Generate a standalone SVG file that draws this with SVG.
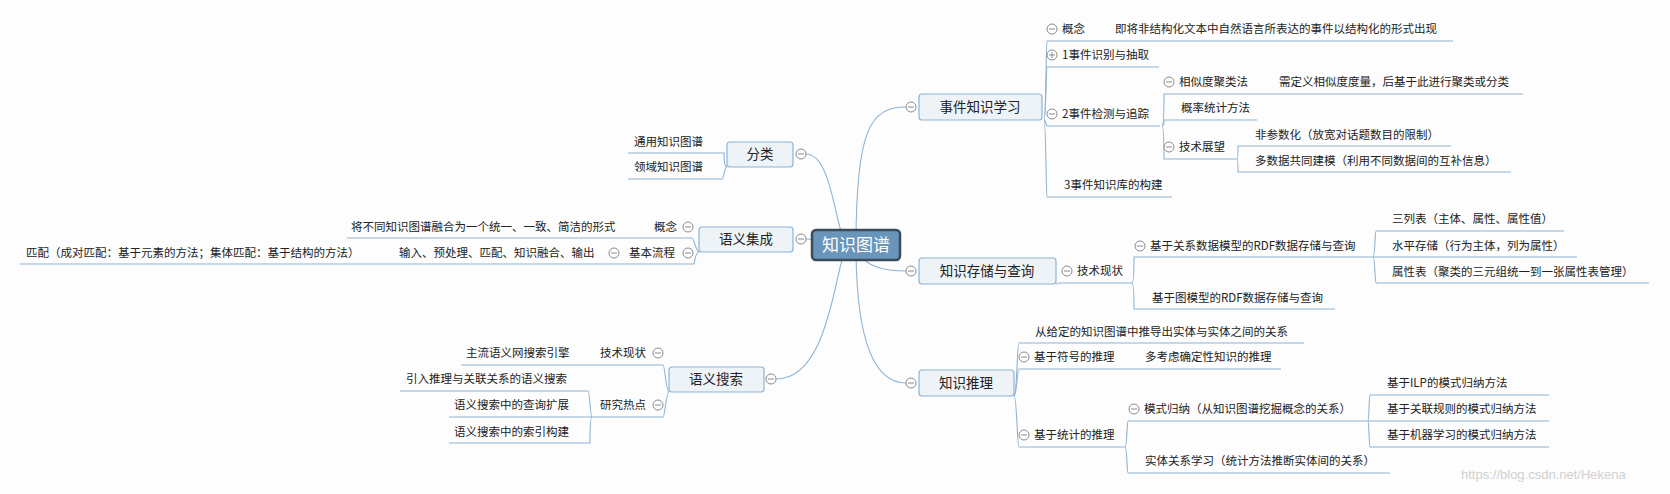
<svg xmlns="http://www.w3.org/2000/svg" width="1670" height="494" viewBox="0 0 1670 494">
<style>
.t{font-family:"Noto Sans CJK SC","Liberation Sans",sans-serif;font-size:11.5px;fill:#222}
.b{font-family:"Noto Sans CJK SC","Liberation Sans",sans-serif;font-size:13.5px;fill:#222;text-anchor:middle}
.box{fill:#eef3f8;stroke:#8fb3d3;stroke-width:1.2}
.ln{fill:none;stroke:#8fb3d3;stroke-width:1.1}
.c{fill:#fff;stroke:#8a8a8a;stroke-width:1}
.m{stroke:#8a8a8a;stroke-width:1}
</style>
<rect width="1670" height="494" fill="#fdfdfd"/>
<g id="connectors">
<path class="ln" d="M850 245 C835 245 835 154 806 154"/>
<path class="ln" d="M850 245 C830 245 830 239 806 239"/>
<path class="ln" d="M850 245 C835 245 835 379 776 379"/>
<path class="ln" d="M856 245 C856 130 870 107 906 107"/>
<path class="ln" d="M856 245 C860 265 880 271 906 271"/>
<path class="ln" d="M856 245 C856 330 870 383 906 383"/>
<path class="ln" d="M727 167 C724 167 724 153 724 153 H628"/>
<path class="ln" d="M727 167 C724 167 724 179 722 179 H628"/>
<path class="ln" d="M699 252 C696 252 694 238 692 238 H347"/>
<path class="ln" d="M699 252 C696 252 694 264 694 264 H20"/>
<path class="ln" d="M669 392 C666 392 665 365 663 365 H461"/>
<path class="ln" d="M669 392 C666 392 665 417 663 417 H592"/>
<path class="ln" d="M592 417 C590 417 590 391 588 391 H400"/>
<path class="ln" d="M592 417 H449"/>
<path class="ln" d="M592 417 C590 417 590 443 590 443 H449"/>
<path class="ln" d="M1044 120 C1046 120 1046 41 1047 41 H1453"/>
<path class="ln" d="M1044 120 C1046 120 1046 67 1047 67 H1159"/>
<path class="ln" d="M1044 120 C1046 120 1046 126 1047 126 H1160"/>
<path class="ln" d="M1044 120 C1046 120 1046 197 1047 197 H1172"/>
<path class="ln" d="M1162 126 C1164 126 1164 94 1164 94 H1523"/>
<path class="ln" d="M1162 126 C1164 126 1164 120 1164 120 H1257"/>
<path class="ln" d="M1162 126 C1164 126 1164 159 1164 159 H1237"/>
<path class="ln" d="M1237 159 C1238 159 1238 146 1238 146 H1451"/>
<path class="ln" d="M1237 159 C1238 159 1238 172 1238 172 H1511"/>
<path class="ln" d="M1056 284 C1058 284 1058 283 1059 283 H1132"/>
<path class="ln" d="M1132 283 C1134 283 1134 257 1134 257 H1373"/>
<path class="ln" d="M1132 283 C1134 283 1134 309 1134 309 H1335"/>
<path class="ln" d="M1373 257 C1375 257 1375 231 1376 231 H1564"/>
<path class="ln" d="M1373 257 H1577"/>
<path class="ln" d="M1373 257 C1375 257 1375 283 1376 283 H1649"/>
<path class="ln" d="M1014 396 C1017 396 1017 343 1019 343 H1304"/>
<path class="ln" d="M1014 396 C1017 396 1017 369 1019 369 H1281"/>
<path class="ln" d="M1014 396 C1017 396 1017 447 1019 447 H1125"/>
<path class="ln" d="M1125 447 C1127 447 1127 421 1128 421 H1368"/>
<path class="ln" d="M1125 447 C1127 447 1127 473 1128 473 H1390"/>
<path class="ln" d="M1368 421 C1369 421 1369 395 1370 395 H1549"/>
<path class="ln" d="M1368 421 H1549"/>
<path class="ln" d="M1368 421 C1369 421 1369 447 1370 447 H1549"/>
</g>
<g id="center"><rect x="812" y="230" width="88" height="30" rx="4" fill="#6a95bb" stroke="#3b4b59" stroke-width="2.5"/><text x="856" y="251" style="font-family:'Noto Sans CJK SC',sans-serif;font-size:17px;fill:#fff;text-anchor:middle">知识图谱</text></g>
<g id="n-fenlei"><rect class="box" x="727" y="142" width="66" height="25" rx="3"/><text class="b" x="760" y="159">分类</text>
<text class="t" x="634" y="146">通用知识图谱</text><text class="t" x="634" y="171">领域知识图谱</text></g>
<g id="n-jicheng"><rect class="box" x="699" y="227" width="94" height="25" rx="3"/><text class="b" x="746" y="244">语义集成</text>
<text class="t" x="654" y="231">概念</text><text class="t" x="351" y="231">将不同知识图谱融合为一个统一、一致、简洁的形式</text>
<text class="t" x="629" y="257">基本流程</text><text class="t" x="399" y="257">输入、预处理、匹配、知识融合、输出</text>
<text class="t" x="26" y="257">匹配（成对匹配：基于元素的方法；集体匹配：基于结构的方法）</text></g>
<g id="n-sousuo"><rect class="box" x="669" y="367" width="95" height="25" rx="3"/><text class="b" x="716" y="384">语义搜索</text>
<text class="t" x="600" y="357">技术现状</text><text class="t" x="466" y="357">主流语义网搜索引擎</text>
<text class="t" x="600" y="409">研究热点</text><text class="t" x="406" y="383">引入推理与关联关系的语义搜索</text>
<text class="t" x="454" y="409">语义搜索中的查询扩展</text><text class="t" x="454" y="436">语义搜索中的索引构建</text></g>
<g id="n-shijian"><rect class="box" x="919" y="94" width="123" height="26" rx="3"/><text class="b" x="980" y="112">事件知识学习</text>
<text class="t" x="1062" y="33">概念</text><text class="t" x="1115" y="33">即将非结构化文本中自然语言所表达的事件以结构化的形式出现</text>
<text class="t" x="1062" y="59">1事件识别与抽取</text><text class="t" x="1062" y="118">2事件检测与追踪</text>
<text class="t" x="1179" y="86">相似度聚类法</text><text class="t" x="1279" y="86">需定义相似度度量，后基于此进行聚类或分类</text>
<text class="t" x="1181" y="112">概率统计方法</text><text class="t" x="1179" y="151">技术展望</text>
<text class="t" x="1255" y="139">非参数化（放宽对话题数目的限制）</text><text class="t" x="1255" y="165">多数据共同建模（利用不同数据间的互补信息）</text>
<text class="t" x="1064" y="189">3事件知识库的构建</text></g>
<g id="n-cunchu"><rect class="box" x="919" y="258" width="137" height="26" rx="3"/><text class="b" x="987" y="276">知识存储与查询</text>
<text class="t" x="1077" y="275">技术现状</text><text class="t" x="1150" y="250">基于关系数据模型的RDF数据存储与查询</text>
<text class="t" x="1152" y="302">基于图模型的RDF数据存储与查询</text>
<text class="t" x="1392" y="223">三列表（主体、属性、属性值）</text><text class="t" x="1392" y="250">水平存储（行为主体，列为属性）</text>
<text class="t" x="1392" y="276">属性表（聚类的三元组统一到一张属性表管理）</text></g>
<g id="n-tuili"><rect class="box" x="919" y="370" width="95" height="26" rx="3"/><text class="b" x="966" y="388">知识推理</text>
<text class="t" x="1035" y="336">从给定的知识图谱中推导出实体与实体之间的关系</text>
<text class="t" x="1034" y="361">基于符号的推理</text><text class="t" x="1145" y="361">多考虑确定性知识的推理</text>
<text class="t" x="1034" y="439">基于统计的推理</text><text class="t" x="1144" y="413">模式归纳（从知识图谱挖掘概念的关系）</text>
<text class="t" x="1145" y="465">实体关系学习（统计方法推断实体间的关系）</text>
<text class="t" x="1387" y="387">基于ILP的模式归纳方法</text><text class="t" x="1387" y="413">基于关联规则的模式归纳方法</text><text class="t" x="1387" y="439">基于机器学习的模式归纳方法</text></g>
<g id="toggles">
<g class="c"><circle cx="801" cy="154" r="5"/><circle cx="801" cy="239" r="5"/><circle cx="771" cy="379" r="5"/><circle cx="688" cy="227" r="5"/><circle cx="688" cy="253" r="5"/><circle cx="614" cy="253" r="5"/><circle cx="658" cy="353" r="5"/><circle cx="658" cy="405" r="5"/><circle cx="911" cy="107" r="5"/><circle cx="911" cy="271" r="5"/><circle cx="911" cy="383" r="5"/><circle cx="1052" cy="29" r="5"/><circle cx="1052" cy="55" r="5"/><circle cx="1052" cy="114" r="5"/><circle cx="1169" cy="82" r="5"/><circle cx="1169" cy="147" r="5"/><circle cx="1067" cy="271" r="5"/><circle cx="1140" cy="246" r="5"/><circle cx="1024" cy="357" r="5"/><circle cx="1024" cy="435" r="5"/><circle cx="1134" cy="409" r="5"/></g>
<path class="m" d="M798 154h6M798 239h6M768 379h6M685 227h6M685 253h6M611 253h6M655 353h6M655 405h6M908 107h6M908 271h6M908 383h6M1049 29h6M1049 55h6M1052 52v6M1049 114h6M1166 82h6M1166 147h6M1064 271h6M1137 246h6M1021 357h6M1021 435h6M1131 409h6"/>
</g>
<text x="1461" y="479" style="font-family:'Liberation Sans',sans-serif;font-size:13px;fill:#d0d0d0">https://blog.csdn.net/Hekena</text>
</svg>
